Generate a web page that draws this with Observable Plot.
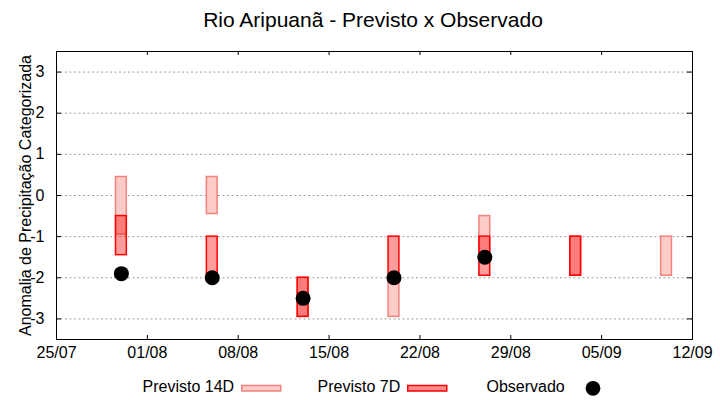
<!DOCTYPE html>
<html>
<head>
<meta charset="utf-8">
<script src="https://cdn.jsdelivr.net/npm/d3@7"></script>
<script src="https://cdn.jsdelivr.net/npm/@observablehq/plot@0.6"></script>
<style>
  html, body { margin: 0; padding: 0; background: #fff; }
  body { width: 720px; height: 400px; overflow: hidden; font-family: "Liberation Sans", Arial, sans-serif; color: #000; }
  #title { height: 31px; padding-top: 9px; width: 694px; padding-left: 26px; text-align: center; font-size: 21px; line-height: 21px; white-space: nowrap; }
  #chart { height: 330px; }
  #chart svg { display: block; }
  #legend { position: relative; height: 30px; width: 720px; }
  #legend .lbl { position: absolute; top: 8.5px; font-size: 16px; line-height: 16px; white-space: nowrap; }
  #legend svg { position: absolute; left: 0; top: 0; }
</style>
</head>
<body>
<div id="title">Rio Aripuanã - Previsto x Observado</div>
<div id="chart"></div>
<div id="legend">
  <span class="lbl" style="left:142.5px">Previsto 14D</span>
  <span class="lbl" style="left:317.5px">Previsto 7D</span>
  <span class="lbl" style="left:486.5px">Observado</span>
  <svg width="720" height="30">
    <rect x="241.75" y="15.5" width="39" height="5.5" fill="#FDCCC8" stroke="#F4837D" stroke-width="1.5"></rect>
    <rect x="407.75" y="15.5" width="39" height="5.5" fill="rgba(255,0,0,0.45)" stroke="#FF0000" stroke-width="1.5"></rect>
    <circle cx="593" cy="18.3" r="7.4" fill="#000"></circle>
  </svg>
</div>
<script>
// ---- data ----
const dates = ["2023-07-30", "2023-08-06", "2023-08-13", "2023-08-20", "2023-08-27", "2023-09-03", "2023-09-10"];
const prev14Top    = [0.45, 0.45, -2, -2, -0.5, -1, -1];
const prev14Bottom = [-0.95, -0.45, -2.95, -2.95, -1.45, -1.95, -1.95];
const prev7Top     = [-0.5, -1, -2, -1, -1, -1, null];
const prev7Bottom  = [-1.45, -1.95, -2.95, -1.95, -1.95, -1.95, null];
const observed     = [-1.9, -2, -2.5, -2, -1.5, null, null];
const yTicks = [-3, -2, -1, 0, 1, 2, 3];
const xTickDates = ["2023-07-25", "2023-08-01", "2023-08-08", "2023-08-15", "2023-08-22", "2023-08-29", "2023-09-05", "2023-09-12"];

// ---- build tables ----
const HALF = 10 * 3600 * 1000; // half bar width in ms
const rows14 = dates.map((d, i) => ({date: new Date(d), top: prev14Top[i], bottom: prev14Bottom[i]})).filter(r => r.top != null);
const rows7 = dates.map((d, i) => ({date: new Date(d), top: prev7Top[i], bottom: prev7Bottom[i]})).filter(r => r.top != null);
const rowsObs = dates.map((d, i) => ({date: new Date(d), value: observed[i]})).filter(r => r.value != null);
const xTicks = xTickDates.map(d => new Date(d));

const W = 720, H = 330, ML = 56, MR = 28, MT = 11, MB = 31;
const plotW = W - ML - MR, plotH = H - MT - MB;

const chart = Plot.plot({
  width: W, height: H,
  marginLeft: ML, marginRight: MR, marginTop: MT, marginBottom: MB,
  style: {fontFamily: "'Liberation Sans', Arial, sans-serif", fontSize: "16px", color: "#000", background: "#fff"},
  x: {type: "utc", domain: [xTicks[0], xTicks[xTicks.length - 1]]},
  y: {domain: [-3.5, 3.5]},
  marks: [
    Plot.ruleY(yTicks, {stroke: "#a0a0a0", strokeWidth: 1, strokeDasharray: "2,2.5"}),
    Plot.rect(rows14, {
      x1: d => new Date(+d.date - HALF), x2: d => new Date(+d.date + HALF),
      y1: "bottom", y2: "top",
      fill: "#FDCCC8", stroke: "#F4837D", strokeWidth: 1.5
    }),
    Plot.rect(rows7, {
      x1: d => new Date(+d.date - HALF), x2: d => new Date(+d.date + HALF),
      y1: "bottom", y2: "top",
      fill: "red", fillOpacity: 0.39, stroke: "red", strokeWidth: 1.5
    }),
    Plot.dot(rowsObs, {x: "date", y: "value", r: 7.5, fill: "black", stroke: "none"}),
    // inward ticks
    Plot.tickY(yTicks, {y: d => d, insetRight: plotW - 5, stroke: "black", strokeWidth: 1}),
    Plot.tickY(yTicks, {y: d => d, insetLeft: plotW - 5, stroke: "black", strokeWidth: 1}),
    Plot.tickX(xTicks, {x: d => d, insetTop: plotH - 4, stroke: "black", strokeWidth: 1}),
    Plot.tickX(xTicks, {x: d => d, insetBottom: plotH - 4, stroke: "black", strokeWidth: 1}),
    Plot.frame({stroke: "black", strokeWidth: 1}),
    Plot.axisX({ticks: xTicks, tickSize: 0, tickPadding: 7, tickFormat: d3.utcFormat("%d/%m"), label: null, fontSize: 16}),
    Plot.axisY({ticks: yTicks, tickSize: 0, tickPadding: 12, tickFormat: d => String(d).replace("\u2212", "-"),
      label: "Anomalia de Precipitação Categorizada", labelAnchor: "center", labelArrow: "none", labelOffset: 37, fontSize: 16})
  ]
});
document.getElementById("chart").appendChild(chart);
</script>
</body>
</html>
